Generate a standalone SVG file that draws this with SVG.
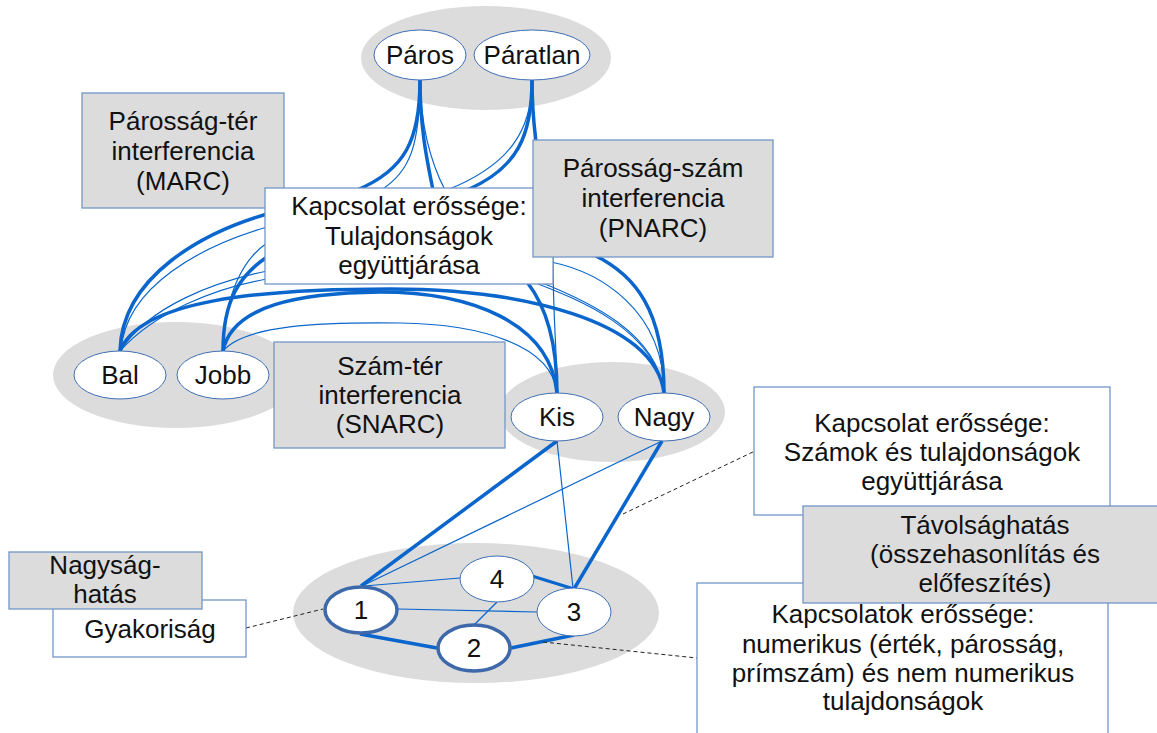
<svg xmlns="http://www.w3.org/2000/svg" width="1157" height="733" viewBox="0 0 1157 733">
<style>
text{font-family:"Liberation Sans",Arial,sans-serif;font-size:26px;fill:#111;text-anchor:middle}
.cl{fill:#dcdcdc;stroke:none}
.tk{fill:none;stroke:#0a66cc;stroke-width:3.5}
.tn{fill:none;stroke:#0a66cc;stroke-width:1.2}
.ds{fill:none;stroke:#222;stroke-width:1;stroke-dasharray:4 3}
.gb{fill:#dcdcdc;stroke:#7396c8;stroke-width:1.3}
.wb{fill:#fff;stroke:#7396c8;stroke-width:1.3}
.nd{fill:#fff;stroke:#3f6fb5;stroke-width:1}
.ndk{fill:#fff;stroke:#3d68aa;stroke-width:3.5}
</style>
<g id="clusters">
<ellipse class="cl" cx="486" cy="58" rx="125" ry="52"/>
<ellipse class="cl" cx="176" cy="375" rx="123" ry="53"/>
<ellipse class="cl" cx="612" cy="412" rx="113" ry="50"/>
<ellipse class="cl" cx="476" cy="613" rx="183" ry="70"/>
</g>
<g id="connectors">
<path class="tk" d="M420,80 C420,140 405,170 357,190 L267,214 C205,232 122,275 120,351"/>
<path class="tn" d="M532,80 C532,130 510,165 447,190 L267,227 C205,245 125,285 121,351"/>
<path class="tn" d="M420,80 C420,145 410,172 381,190 L267,243 C245,258 225,290 223,351"/>
<path class="tk" d="M532,80 C532,135 518,168 467,190 L267,257 C240,275 223,300 223,351"/>
<path class="tk" d="M420,80 C420,130 428,165 433,190 L527,282 C545,305 557,340 557,393"/>
<path class="tn" d="M420,80 C421,130 432,165 445,190 L551,262 C600,272 664,310 664,393"/>
<path class="tk" d="M532,80 C532,110 534,125 536,142 L594,255 C635,275 664,310 664,393"/>
<path class="tn" d="M532,80 C532,110 534,125 537,142 L553,257 C553,320 557,350 557,393"/>
<path class="tn" d="M120,351 C150,305 215,282 267,271 L533,282 C580,300 655,330 664,393"/>
<path class="tn" d="M120,351 C155,312 215,288 267,279 L540,282 C590,302 657,333 664,393"/>
<path class="tk" d="M120,351 C140,300 260,289 390,289 C520,289 655,320 664,393"/>
<path class="tk" d="M223,351 C232,305 300,293 380,292 C470,292 550,322 557,393"/>
<path class="tn" d="M223,351 C245,325 320,322 400,323 C480,324 552,345 557,393"/>
<path class="tk" d="M361,586 L557,441"/>
<path class="tn" d="M362,586 L662,441"/>
<path class="tn" d="M557,441 L573,588"/>
<path class="tk" d="M662,441 L574,589"/>
<path class="tn" d="M364,586 L460,578"/>
<path class="tn" d="M398,609 L537,612"/>
<path class="tk" d="M532,576 L574,589" style="stroke-width:3"/>
<path class="tn" d="M497,602 L474,625"/>
<path class="tk" d="M360,634 L437,648"/>
<path class="tk" d="M511,648 L574,635"/>
<path class="ds" d="M246,628 L323,609"/>
<path class="ds" d="M543,642 L697,658"/>
<path class="ds" d="M623,514 L755,451"/>
</g>
<g id="marc">
<rect class="gb" x="82" y="93" width="202" height="115"/>
<text x="183" y="130">Párosság-tér</text>
<text x="183" y="160">interferencia</text>
<text x="183" y="190">(MARC)</text>
</g>
<g id="tulajdonsagok">
<rect class="wb" x="265" y="188" width="288" height="96"/>
<text x="409" y="215">Kapcsolat erőssége:</text>
<text x="409" y="245">Tulajdonságok</text>
<text x="409" y="274">együttjárása</text>
</g>
<g id="pnarc">
<rect class="gb" x="533" y="140" width="240" height="117"/>
<text x="653" y="177">Párosság-szám</text>
<text x="653" y="207">interferencia</text>
<text x="653" y="237">(PNARC)</text>
</g>
<g id="snarc">
<rect class="gb" x="274" y="342" width="231" height="106"/>
<text x="390" y="375">Szám-tér</text>
<text x="390" y="404">interferencia</text>
<text x="390" y="433">(SNARC)</text>
</g>
<g id="szamok">
<rect class="wb" x="754" y="387" width="356" height="128"/>
<text x="932" y="432">Kapcsolat erőssége:</text>
<text x="932" y="461">Számok és tulajdonságok</text>
<text x="932" y="490">együttjárása</text>
</g>
<g id="kapcsolatok">
<rect class="wb" x="697" y="583" width="411" height="170"/>
<text x="903" y="623">Kapcsolatok erőssége:</text>
<text x="903" y="653">numerikus (érték, párosság,</text>
<text x="903" y="682">prímszám) és nem numerikus</text>
<text x="903" y="710">tulajdonságok</text>
</g>
<g id="tavolsag">
<rect class="gb" x="803" y="506" width="364" height="97"/>
<text x="985" y="534">Távolsághatás</text>
<text x="985" y="563">(összehasonlítás és</text>
<text x="985" y="592">előfeszítés)</text>
</g>
<g id="gyakorisag">
<rect class="wb" x="53" y="600" width="193" height="57"/>
<text x="150" y="638">Gyakoriság</text>
</g>
<g id="nagysag">
<rect class="gb" x="9" y="552" width="193" height="57"/>
<text x="105" y="574">Nagyság-</text>
<text x="105" y="603">hatás</text>
</g>
<g id="paros"><ellipse class="nd" cx="420" cy="55" rx="46" ry="25"/><text x="420" y="64">Páros</text></g>
<g id="paratlan"><ellipse class="nd" cx="532" cy="55" rx="58" ry="25"/><text x="532" y="64">Páratlan</text></g>
<g id="bal"><ellipse class="nd" cx="120" cy="375" rx="46" ry="24"/><text x="120" y="384">Bal</text></g>
<g id="jobb"><ellipse class="nd" cx="223" cy="375" rx="46" ry="24"/><text x="223" y="384">Jobb</text></g>
<g id="kis"><ellipse class="nd" cx="557" cy="417" rx="46" ry="24"/><text x="557" y="426">Kis</text></g>
<g id="nagy"><ellipse class="nd" cx="664" cy="417" rx="46" ry="24"/><text x="664" y="426">Nagy</text></g>
<g id="n1"><ellipse class="ndk" cx="361" cy="610" rx="36" ry="23"/><text x="361" y="619">1</text></g>
<g id="n4"><ellipse class="nd" cx="497" cy="579" rx="37" ry="23"/><text x="497" y="588">4</text></g>
<g id="n3"><ellipse class="nd" cx="574" cy="612" rx="37" ry="24"/><text x="574" y="621">3</text></g>
<g id="n2"><ellipse class="ndk" cx="474" cy="648" rx="36" ry="23"/><text x="474" y="657">2</text></g>
</svg>
